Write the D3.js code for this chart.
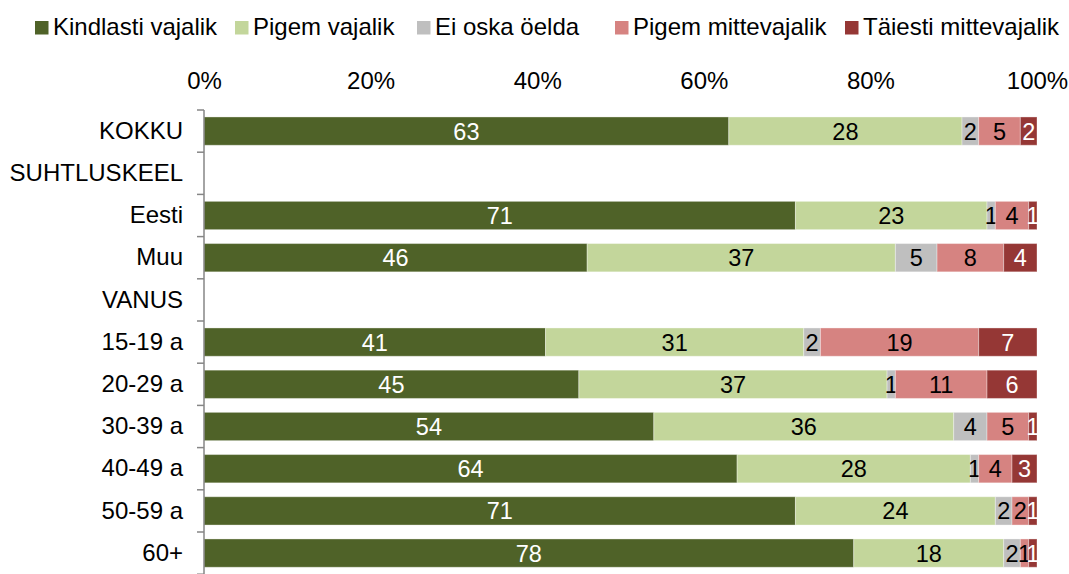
<!DOCTYPE html>
<html>
<head>
<meta charset="utf-8">
<script src="https://cdn.jsdelivr.net/npm/d3@7"></script>
<style>
  body { margin: 0; background: #fff; }
  svg text { font-family: "Liberation Sans", Arial, sans-serif; }
</style>
</head>
<body>
<div id="chart"></div>
<script>
// andmed
var categories = ["KOKKU", "SUHTLUSKEEL", "Eesti", "Muu", "VANUS", "15-19 a", "20-29 a", "30-39 a", "40-49 a", "50-59 a", "60+"];
var seriesNames = ["Kindlasti vajalik", "Pigem vajalik", "Ei oska öelda", "Pigem mittevajalik", "Täiesti mittevajalik"];
// null = pealkirjarida, tulpa pole
var kindlasti = [63, null, 71, 46, null, 41, 45, 54, 64, 71, 78];
var pigem     = [28, null, 23, 37, null, 31, 37, 36, 28, 24, 18];
var eiOska    = [2,  null, 1,  5,  null, 2,  1,  4,  1,  2,  2];
var pigemMitte= [5,  null, 4,  8,  null, 19, 11, 5,  4,  2,  1];
var taiesti   = [2,  null, 1,  4,  null, 7,  6,  1,  3,  1,  1];
var tickValues = [0, 20, 40, 60, 80, 100];

var colors = ["#4F6228", "#C3D69B", "#BFBFBF", "#D68381", "#953735"];
var labelColors = ["#fff", "#000", "#000", "#000", "#fff"];
var legendX = [35, 235, 417, 615, 845]; // legendi paigutus

var widthx = 1069, heighty = 574;
var fontSize = 24;
var svg = d3.select("#chart").append("svg")
    .attr("width", widthx)
    .attr("height", heighty);

var series = [kindlasti, pigem, eiOska, pigemMitte, taiesti];

var x = d3.scaleLinear().domain([0, 100]).range([204, 1037]);
var y = d3.scaleBand()
    .domain(categories)
    .range([110, 574.2])
    .paddingInner(0.33)
    .paddingOuter(0.165);

// ülemine telg (protsendid)
var xAxis = svg.append("g")
    .attr("transform", "translate(0,89)")
    .call(d3.axisTop(x).tickValues(tickValues).tickSize(0).tickPadding(0)
        .tickFormat(function(d) { return d + "%"; }));
xAxis.select(".domain").remove();
xAxis.selectAll("text")
    .attr("font-family", "Liberation Sans, Arial, sans-serif")
    .attr("font-size", fontSize)
    .attr("fill", "#000");

// tulbad
categories.forEach(function(cat, i) {
    if (kindlasti[i] === null) return;
    var acc = 0;
    series.forEach(function(s, k) {
        var v = s[i];
        var x0 = acc, x1 = acc + v;
        acc = x1;
        svg.append("rect")
            .attr("x", x(x0))
            .attr("y", y(cat))
            .attr("width", x(x1) - x(x0))
            .attr("height", y.bandwidth())
            .attr("fill", colors[k])
            .attr("stroke", "#fff")
            .attr("stroke-opacity", 0.35)
            .attr("stroke-width", 1);
        svg.append("text")
            .attr("x", x((x0 + x1) / 2))
            .attr("y", y(cat) + y.bandwidth() / 2)
            .attr("dy", "0.36em")
            .attr("text-anchor", "middle")
            .attr("font-size", 23.5)
            .attr("fill", labelColors[k])
            .text(v);
    });
});

// vasak telg
var yAxis = svg.append("g")
    .attr("transform", "translate(204,0)")
    .call(d3.axisLeft(y).tickSize(0).tickPadding(21));
yAxis.select(".domain").remove();
yAxis.selectAll("text")
    .attr("font-family", "Liberation Sans, Arial, sans-serif")
    .attr("font-size", fontSize)
    .attr("fill", "#000");

var y0 = y.range()[0];
svg.append("line")
    .attr("x1", 204).attr("x2", 204)
    .attr("y1", y0).attr("y2", heighty)
    .attr("stroke", "#868686").attr("stroke-width", 1.5);
svg.selectAll(".ytick")
    .data(d3.range(categories.length + 1))
    .enter().append("line")
    .attr("class", "ytick")
    .attr("x1", 197).attr("x2", 204)
    .attr("y1", function(i) { return y0 + i * y.step(); })
    .attr("y2", function(i) { return y0 + i * y.step(); })
    .attr("stroke", "#868686").attr("stroke-width", 1.5);

// legend
var legend = svg.selectAll(".legend")
    .data(seriesNames)
    .enter().append("g")
    .attr("class", "legend")
    .attr("transform", function(d, i) { return "translate(" + legendX[i] + ",0)"; });
legend.append("rect")
    .attr("x", 0).attr("y", 21)
    .attr("width", 13.5).attr("height", 13.5)
    .attr("fill", function(d, i) { return colors[i]; });
legend.append("text")
    .attr("x", 18).attr("y", 35)
    .attr("font-size", fontSize)
    .attr("fill", "#000")
    .text(function(d) { return d; });
</script>
</body>
</html>
